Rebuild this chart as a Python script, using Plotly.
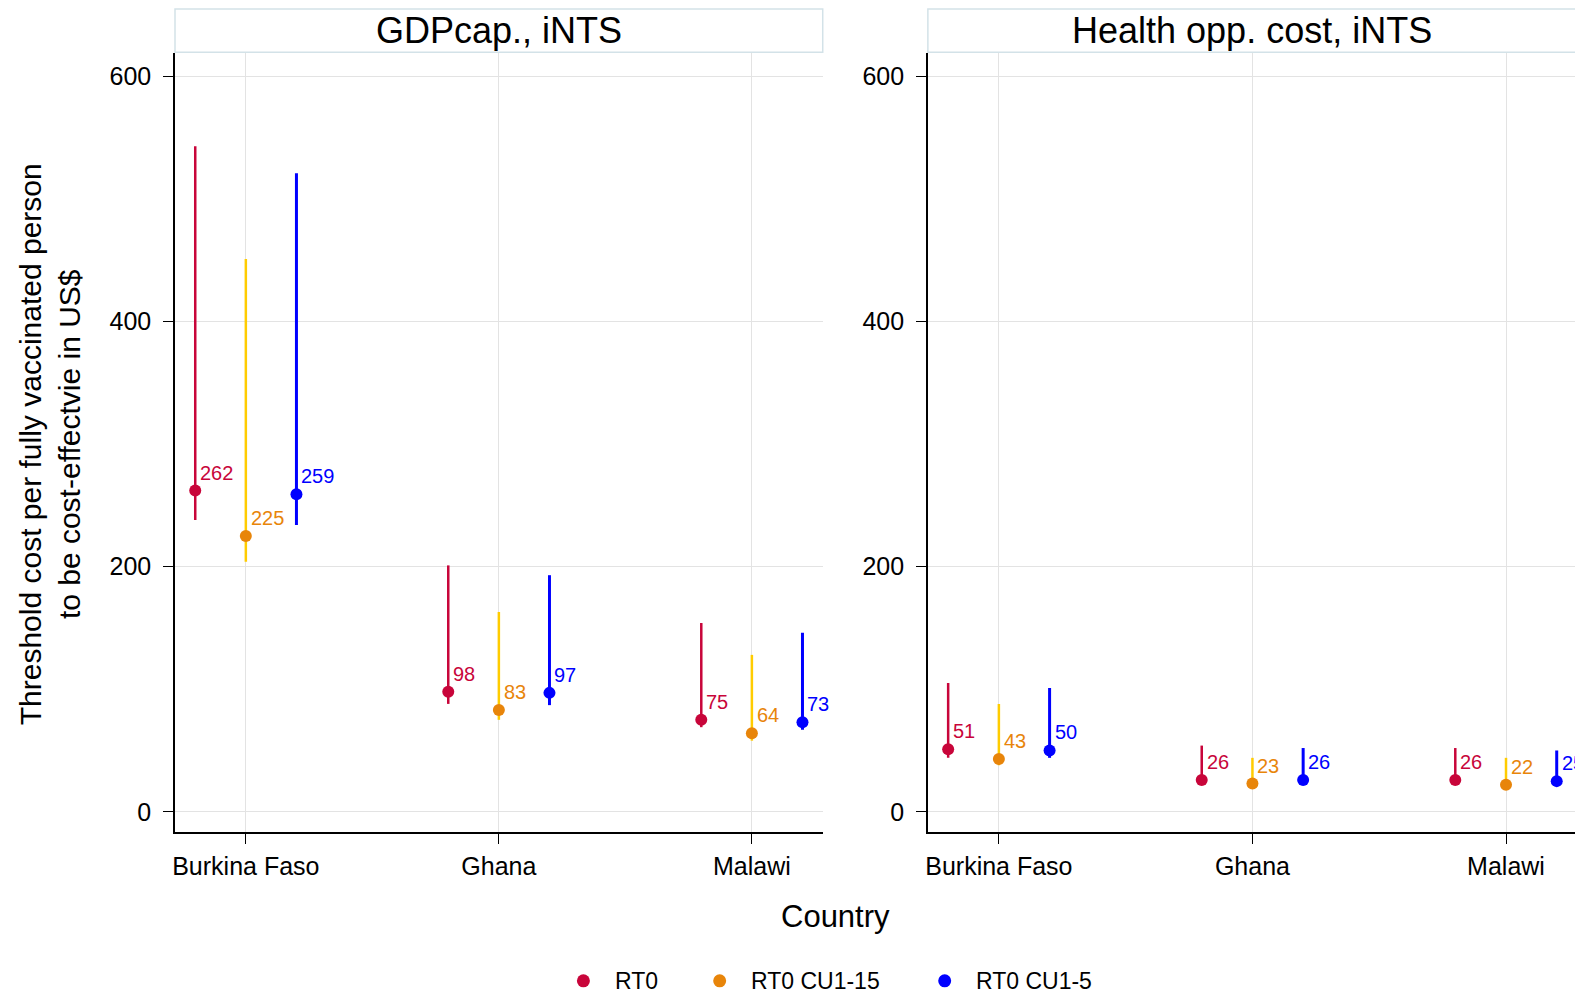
import plotly.graph_objects as go

countries = ["Burkina Faso", "Ghana", "Malawi"]
series = ["RT0", "RT0 CU1-15", "RT0 CU1-5"]
panels = ["GDPcap., iNTS", "Health opp. cost, iNTS"]

# panel 1: GDPcap
gdp_point = {"RT0": [262, 98, 75], "RT0 CU1-15": [225, 83, 64], "RT0 CU1-5": [259, 97, 73]}
gdp_low = {"RT0": [238, 88, 69], "RT0 CU1-15": [204, 75, 58], "RT0 CU1-5": [234, 87, 67]}
gdp_high = {"RT0": [543, 201, 154], "RT0 CU1-15": [451, 163, 128], "RT0 CU1-5": [521, 193, 146]}
# panel 2: Health opportunity cost
hoc_point = {"RT0": [51, 26, 26], "RT0 CU1-15": [43, 23, 22], "RT0 CU1-5": [50, 26, 25]}
hoc_low = {"RT0": [44, 22, 23], "RT0 CU1-15": [38, 20, 19], "RT0 CU1-5": [44, 23, 22]}
hoc_high = {"RT0": [105, 54, 52], "RT0 CU1-15": [88, 44, 44], "RT0 CU1-5": [101, 52, 50]}

offsets = {"RT0": -0.2, "RT0 CU1-15": 0.0, "RT0 CU1-5": 0.2}
marker_col = {"RT0": "#C8053A", "RT0 CU1-15": "#E8850A", "RT0 CU1-5": "#0000FF"}
line_col = {"RT0": "#C8053A", "RT0 CU1-15": "#FFCC00", "RT0 CU1-5": "#0000FF"}
line_w = {"RT0": 2.5, "RT0 CU1-15": 2.5, "RT0 CU1-5": 3}
text_col = {"RT0": "#C8053A", "RT0 CU1-15": "#E8850A", "RT0 CU1-5": "#0000FF"}

FONT = "Liberation Sans, Arial, sans-serif"
fig = go.Figure()
annotations = []

data = [(gdp_point, gdp_low, gdp_high), (hoc_point, hoc_low, hoc_high)]
for pi, (pt, lo, hi) in enumerate(data):
    xa = "x" if pi == 0 else "x2"
    ya = "y" if pi == 0 else "y2"
    for s in series:
        xs = [i + offsets[s] for i in range(len(countries))]
        fig.add_trace(go.Scatter(
            x=xs, y=pt[s], xaxis=xa, yaxis=ya, mode="markers",
            marker=dict(color=marker_col[s], size=12),
            error_y=dict(type="data", symmetric=False,
                         array=[h - p for h, p in zip(hi[s], pt[s])],
                         arrayminus=[p - l for p, l in zip(pt[s], lo[s])],
                         color=line_col[s], thickness=line_w[s], width=0),
            name=s, showlegend=False, cliponaxis=False))
        for xv, yv in zip(xs, pt[s]):
            annotations.append(dict(text=str(yv), x=xv, y=yv, xref=xa, yref=ya,
                                    xanchor="left", yanchor="bottom", xshift=3, yshift=5,
                                    showarrow=False,
                                    font=dict(color=text_col[s], size=20, family=FONT)))

axis_common = dict(showline=True, linecolor="black", linewidth=1.5,
                   ticks="outside", ticklen=10, tickcolor="black",
                   tickfont=dict(size=25, color="black", family=FONT),
                   showgrid=True, gridcolor="#e3e3e3", gridwidth=1, zeroline=False)

xcommon = dict(axis_common, range=[-0.28, 2.28], tickvals=[0, 1, 2], ticktext=countries,
               ticklabelstandoff=1)
ycommon = dict(axis_common, range=[-16.5, 619], tickvals=[0, 200, 400, 600],
               ticklabelstandoff=7)

fig.update_layout(
    width=1575, height=986,
    margin=dict(l=167, r=6, t=44.5, b=162),
    plot_bgcolor="white", paper_bgcolor="white",
    font=dict(family=FONT, color="black"),
    xaxis=dict(xcommon, domain=[0, 0.462], anchor="y"),
    xaxis2=dict(xcommon, domain=[0.537, 1], anchor="y2"),
    yaxis=dict(ycommon, anchor="x"),
    yaxis2=dict(ycommon, anchor="x2"),
    showlegend=False,
)

shapes = []
for pi, xd in enumerate(["x domain", "x2 domain"]):
    shapes.append(dict(type="rect", xref=xd, yref="paper", x0=0, x1=1,
                       y0=1.001, y1=1.0565, line=dict(color="#d3e2e8", width=1.5),
                       fillcolor="white", layer="above"))
    annotations.append(dict(text=panels[pi], xref=xd, yref="paper", x=0.5, y=1.0295,
                            showarrow=False, font=dict(size=36, family=FONT, color="black"),
                            xanchor="center", yanchor="middle"))

annotations.append(dict(text="Threshold cost per fully vaccinated person<br>to be cost-effectvie in US$",
                        xref="paper", yref="paper", x=-0.089, y=0.498, textangle=-90,
                        showarrow=False, font=dict(size=30, family=FONT, color="black"),
                        xanchor="center", yanchor="middle"))
annotations.append(dict(text="Country", xref="paper", yref="paper", x=0.471, y=-0.108,
                        showarrow=False, font=dict(size=31, family=FONT, color="black"),
                        xanchor="center", yanchor="middle"))

# legend (drawn manually so it does not push the margins)
leg_marker_x = [0.2913, 0.3885, 0.5490]
leg_text_x = [0.3121, 0.4094, 0.5699]
leg_y = -0.191
for s, mx, tx in zip(series, leg_marker_x, leg_text_x):
    shapes.append(dict(type="circle", xref="paper", yref="paper",
                       xsizemode="pixel", ysizemode="pixel", xanchor=mx, yanchor=leg_y,
                       x0=-6.5, x1=6.5, y0=-6.5, y1=6.5,
                       fillcolor=marker_col[s], line=dict(width=0)))
    annotations.append(dict(text=s, xref="paper", yref="paper", x=tx, y=leg_y,
                            xanchor="left", yanchor="middle", showarrow=False,
                            font=dict(size=23, family=FONT, color="black")))

fig.update_layout(shapes=shapes, annotations=annotations)
fig.write_html("out.html")
